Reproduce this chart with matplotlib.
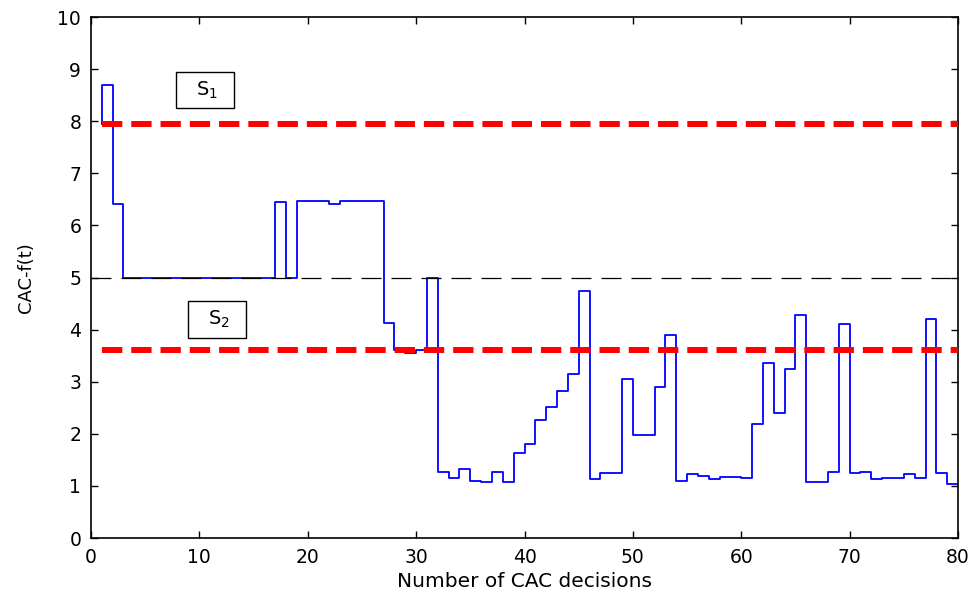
import numpy as np
import matplotlib
matplotlib.use("Agg")
import matplotlib.pyplot as plt

plt.rcParams["font.family"] = ["DejaVu Sans"]
plt.rcParams["mathtext.fontset"] = "dejavusans"

# CAC-f(t) value held after each decision k = 1..79 (step ends at 80)
decisions = np.arange(1, 81)
cac_f = [8.70, 6.42, 5.0, 5.0, 5.0, 5.0, 5.0, 5.0, 5.0, 5.0,
         5.0, 5.0, 5.0, 5.0, 5.0, 5.0, 6.45, 5.0, 6.47, 6.47,
         6.47, 6.41, 6.47, 6.47, 6.47, 6.47, 4.12, 3.60, 3.56, 3.60,
         5.0, 1.27, 1.15, 1.33, 1.10, 1.07, 1.27, 1.07, 1.63, 1.80,
         2.26, 2.51, 2.83, 3.15, 4.74, 1.13, 1.25, 1.25, 3.05, 1.98,
         1.98, 2.89, 3.89, 1.09, 1.22, 1.19, 1.13, 1.18, 1.18, 1.16,
         2.18, 3.36, 2.39, 3.24, 4.28, 1.07, 1.07, 1.27, 4.10, 1.25,
         1.27, 1.13, 1.15, 1.15, 1.22, 1.15, 4.20, 1.25, 1.04]
start_value = 7.95

s1_level = 7.94
s2_level = 3.60
mid_level = 5.0

fig = plt.figure(figsize=(9.76, 5.97), dpi=100)
ax = fig.add_axes([0.0932, 0.0988, 0.8884, 0.8727])

x = np.r_[decisions[0], decisions]
y = np.r_[start_value, cac_f, cac_f[-1]]
ax.step(x, y, where="post", color="#0000ff", linewidth=1.3, zorder=2)

ax.plot([0, 80], [mid_level, mid_level], color="black", linewidth=0.9,
        dashes=(16, 8), zorder=3)
ax.plot([1, 80], [s1_level, s1_level], color="#ff0000", linewidth=4.3,
        dashes=(3.4, 1.5), zorder=4)
ax.plot([1, 80], [s2_level, s2_level], color="#ff0000", linewidth=4.3,
        dashes=(3.4, 1.5), zorder=4)

box = dict(boxstyle="square,pad=0.4", facecolor="white", edgecolor="black", linewidth=1)
ax.text(10.5, 8.6, "  S$_1$  ", fontsize=14, ha="center", va="center", bbox=box, zorder=5)
ax.text(11.65, 4.2, "  S$_2$  ", fontsize=14, ha="center", va="center", bbox=box, zorder=5)

ax.set_xlim(0, 80)
ax.set_ylim(0, 10)
ax.set_xticks(np.arange(0, 81, 10))
ax.set_yticks(np.arange(0, 11, 1))
ax.tick_params(direction="in", length=5, width=1, top=True, right=True,
               labelsize=13.5, colors="black", pad=7)
for sp in ax.spines.values():
    sp.set_linewidth(1.2)

ax.set_xlabel("Number of CAC decisions", fontsize=14.5, labelpad=4)
ax.set_ylabel("CAC-f(t)", fontsize=13, labelpad=16)

fig.savefig("out.png", dpi=100)
